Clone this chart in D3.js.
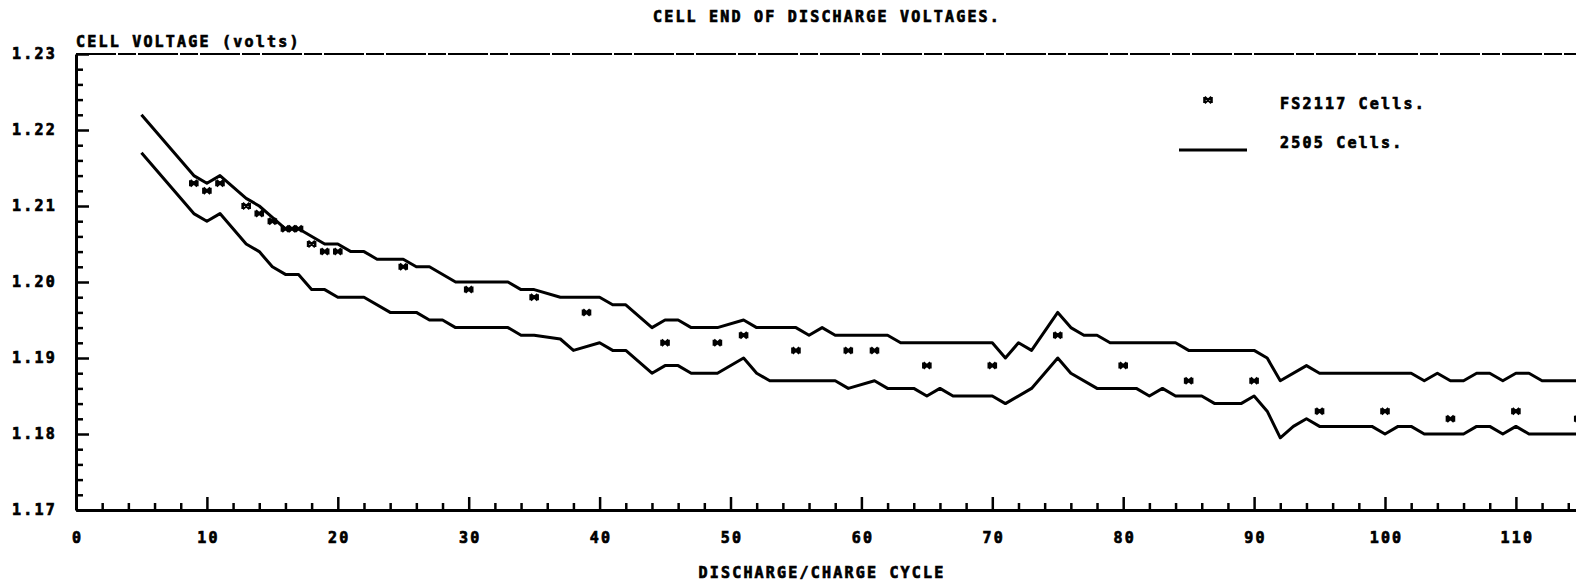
<!DOCTYPE html>
<html>
<head>
<meta charset="utf-8">
<script src="https://cdn.jsdelivr.net/npm/d3@7"></script>
<style>
  body { margin: 0; background: #fff; }
  svg { display: block; }
  text { font-family: "DejaVu Sans Mono", monospace; font-weight: bold; font-size: 15px; letter-spacing: 2.2px; fill: #000; stroke: #000; stroke-width: 0.7px; }
</style>
</head>
<body>
<svg id="chart" width="1576" height="586"></svg>
<script>
// 2505 cells, upper and lower band (cycle, volts)
const upperCycles = [5,9,10,11,13,14,15,16,17,19,20,21,22,23,25,26,27,29,33,34,35,37,40,41,42,44,45,46,47,49,51,52,55,56,57,58,62,63,70,71,72,73,75,76,77,78,79,84,85,90,91,92,94,95,102,103,104,105,106,107,108,109,110,111,112,115]
const upperVolts = [1.222,1.214,1.213,1.214,1.211,1.210,1.2085,1.207,1.207,1.205,1.205,1.204,1.204,1.203,1.203,1.202,1.202,1.200,1.200,1.199,1.199,1.198,1.198,1.197,1.197,1.194,1.195,1.195,1.194,1.194,1.195,1.194,1.194,1.193,1.194,1.193,1.193,1.192,1.192,1.190,1.192,1.191,1.196,1.194,1.193,1.193,1.192,1.192,1.191,1.191,1.190,1.187,1.189,1.188,1.188,1.187,1.188,1.187,1.187,1.188,1.188,1.187,1.188,1.188,1.187,1.187]
const lowerCycles = [5,9,10,11,13,14,15,16,17,18,19,20,22,24,26,27,28,29,33,34,35,37,38,40,41,42,44,45,46,47,49,51,52,53,58,59,61,62,64,65,66,67,70,71,73,75,76,78,81,82,83,84,86,87,89,90,91,92,93,94,95,99,100,101,102,103,106,107,108,109,110,111,115]
const lowerVolts = [1.217,1.209,1.208,1.209,1.205,1.204,1.202,1.201,1.201,1.199,1.199,1.198,1.198,1.196,1.196,1.195,1.195,1.194,1.194,1.193,1.193,1.1925,1.191,1.192,1.191,1.191,1.188,1.189,1.189,1.188,1.188,1.190,1.188,1.187,1.187,1.186,1.187,1.186,1.186,1.185,1.186,1.185,1.185,1.184,1.186,1.190,1.188,1.186,1.186,1.185,1.186,1.185,1.185,1.184,1.184,1.185,1.183,1.1795,1.181,1.182,1.181,1.181,1.180,1.181,1.181,1.180,1.180,1.181,1.181,1.180,1.181,1.180,1.180]

// FS2117 cells
const pointCycles = [9,10,11,13,14,15,16,16.5,17,18,19,20,25,30,35,39,45,49,51,55,59,61,65,70,75,80,85,90,95,100,105,110,114.8]
const pointVolts = [1.213,1.212,1.213,1.210,1.209,1.208,1.207,1.207,1.207,1.205,1.204,1.204,1.202,1.199,1.198,1.196,1.192,1.192,1.193,1.191,1.191,1.191,1.189,1.189,1.193,1.189,1.187,1.187,1.183,1.183,1.182,1.183,1.182]

const yTicks = [1.17,1.18,1.19,1.20,1.21,1.22,1.23]
const xTicks = [0,10,20,30,40,50,60,70,80,90,100,110]

const title = "CELL END OF DISCHARGE VOLTAGES."
const yTitle = "CELL VOLTAGE (volts)"
const xTitle = "DISCHARGE/CHARGE CYCLE"
const legendLabels = ["FS2117 Cells.", "2505 Cells."]

let svg = d3.select("#chart")

let x = d3.scaleLinear().domain([0, 115]).range([76, 76 + 115 * 13.09])
let y = d3.scaleLinear().domain([1.17, 1.23]).range([510, 54])

//star-ish marker used by the plotter
const marker = "M-3.5,-3V3M3.5,-3V3M-3.5,-3L3.5,3M3.5,-3L-3.5,3M-2,0H2"

//top frame line
svg.append("line")
  .attr("x1", x(0)).attr("x2", 1576)
  .attr("y1", y(1.23)).attr("y2", y(1.23))
  .attr("stroke", "#000").attr("stroke-width", 2)
  .attr("stroke-dasharray", "40,2,18,2")

//minor ticks
let yMinor = d3.range(1.172, 1.2299, 0.002).filter(v => Math.abs(v * 100 - Math.round(v * 100)) > 0.01)
let xMinor = d3.range(2, 115, 2).filter(v => v % 10)

svg.append("g").attr("transform", `translate(${x(0)},0)`)
  .call(d3.axisLeft(y).tickValues(yMinor).tickSize(-7).tickSizeOuter(0).tickFormat(""))
  .call(g => g.select(".domain").remove())
svg.append("g").attr("transform", `translate(0,${y(1.17)})`)
  .call(d3.axisBottom(x).tickValues(xMinor).tickSize(-7).tickSizeOuter(0).tickFormat(""))
  .call(g => g.select(".domain").remove())

//major ticks + labels
let yAxis = svg.append("g").attr("transform", `translate(${x(0)},0)`)
  .call(d3.axisLeft(y).tickValues(yTicks).tickSize(-13).tickSizeOuter(0).tickPadding(19).tickFormat(d3.format(".2f")))
let xAxis = svg.append("g").attr("transform", `translate(0,${y(1.17)})`)
  .call(d3.axisBottom(x).tickValues(xTicks).tickSize(-13).tickSizeOuter(0).tickPadding(22).tickFormat(d3.format("d")))

svg.selectAll(".tick line").attr("stroke", "#000").attr("stroke-width", 2.5)
svg.selectAll(".domain").attr("stroke", "#000").attr("stroke-width", 3)
svg.selectAll(".tick text").attr("font-family", null).attr("font-size", null).attr("fill", null)
xAxis.selectAll(".tick text").attr("dx", "1px")

//band lines
let line = d3.line().x(d => x(d[0])).y(d => y(d[1]))
let bands = [d3.zip(upperCycles, upperVolts), d3.zip(lowerCycles, lowerVolts)]
svg.selectAll(".band").data(bands).enter().append("path")
  .attr("class", "band")
  .attr("d", line)
  .attr("fill", "none").attr("stroke", "#000").attr("stroke-width", 3)
  .attr("stroke-linejoin", "round")

//points
svg.selectAll(".pt").data(d3.zip(pointCycles, pointVolts)).enter().append("path")
  .attr("class", "pt")
  .attr("transform", d => `translate(${x(d[0])},${y(d[1])})`)
  .attr("d", marker)
  .attr("fill", "none").attr("stroke", "#000").attr("stroke-width", 2.6)

//texts
svg.append("text").attr("x", 827).attr("y", 22).attr("text-anchor", "middle").text(title)
svg.append("text").attr("x", x(0)).attr("y", 47).text(yTitle)
svg.append("text").attr("x", 822).attr("y", 578).attr("text-anchor", "middle").text(xTitle)

//legend
let legend = svg.append("g").attr("transform", "translate(1179,0)")
legend.append("path").attr("transform", "translate(29,100)").attr("d", marker)
  .attr("fill", "none").attr("stroke", "#000").attr("stroke-width", 2.6)
legend.append("line").attr("x1", 0).attr("x2", 68).attr("y1", 150).attr("y2", 150)
  .attr("stroke", "#000").attr("stroke-width", 3)
legend.selectAll(".lbl").data(legendLabels).enter().append("text")
  .attr("class", "lbl")
  .attr("x", 101).attr("y", (d, i) => 109 + i * 39)
  .text(d => d)
</script>
</body>
</html>
